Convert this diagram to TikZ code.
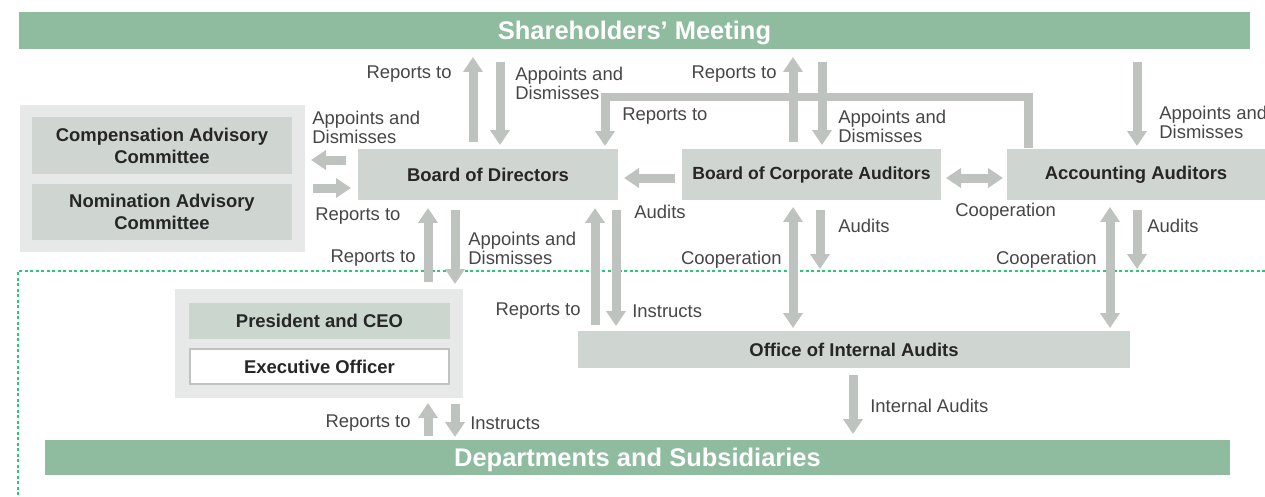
\documentclass[tikz,border=0pt]{standalone}
\usepackage{fontspec}
\setmainfont{Liberation Sans}
\usetikzlibrary{arrows.meta}
\definecolor{bar_green}{RGB}{143, 188, 159}
\definecolor{box_grey}{RGB}{207, 213, 209}
\definecolor{ceo_grey}{RGB}{202, 214, 206}
\definecolor{grp_grey}{RGB}{230, 233, 231}
\definecolor{arrow_grey}{RGB}{190, 195, 192}
\definecolor{lbl_grey}{RGB}{70, 70, 70}
\definecolor{dot_green}{RGB}{40, 200, 120}
\tikzstyle{bar}=[rectangle,fill=bar_green,text=white,inner sep=0pt,text depth=0pt,
  font=\fontsize{14.5}{16}\selectfont\bfseries]
\tikzstyle{box}=[rectangle,fill=box_grey,text=black!85,inner sep=0pt,align=center,
  font=\fontsize{10.5}{12.5}\selectfont\bfseries]
\tikzstyle{grp}=[rectangle,fill=grp_grey,inner sep=0pt]
\tikzstyle{lbl}=[text=lbl_grey,inner sep=0pt,align=left,yshift=-0.04cm,
  font=\fontsize{10.5}{10.8}\selectfont]
\tikzstyle{fat}=[draw=arrow_grey,line width=0.18cm,
  -{Triangle[width=0.38cm,length=0.3cm]}]
\tikzstyle{fatboth}=[draw=arrow_grey,line width=0.18cm,
  {Triangle[width=0.38cm,length=0.3cm]}-{Triangle[width=0.38cm,length=0.3cm]}]
\tikzstyle{dotline}=[draw=dot_green,line width=0.025cm,dash pattern=on 0.06cm off 0.05cm]
\tikzstyle{none}=[]

\begin{document}
\begin{tikzpicture}[x=0.02cm, y=-0.02cm]
            \useasboundingbox (0, 0) rectangle (1265, 497);
            % boxes
            \node [style=bar, minimum width=24.62cm, minimum height=0.74cm] (0) at (634.5, 30.5) {Shareholders’ Meeting};
            \node [style=bar, minimum width=23.7cm, minimum height=0.7cm] (1) at (637.5, 457.5) {Departments and Subsidiaries};
            \node [style=grp, minimum width=5.7cm, minimum height=2.94cm] (2) at (162.5, 178.5) {};
            \node [style=box, minimum width=5.2cm, minimum height=1.14cm] (3) at (162, 145.5) {Compensation Advisory\\Committee};
            \node [style=box, minimum width=5.2cm, minimum height=1.14cm] (4) at (162, 212) {Nomination Advisory\\Committee};
            \node [style=box, minimum width=5.2cm, minimum height=1.02cm] (5) at (488, 174.5) {Board of Directors};
            \node [style=box, font=\fontsize{10}{12}\selectfont\bfseries, minimum width=5.18cm, minimum height=1.02cm] (6) at (811.5, 174.5) {Board of Corporate Auditors};
            \node [style=box, minimum width=5.16cm, minimum height=1.02cm] (7) at (1136, 174.5) {Accounting Auditors};
            \node [style=box, minimum width=11.04cm, minimum height=0.74cm] (8) at (854, 349.5) {Office of Internal Audits};
            \node [style=grp, minimum width=5.76cm, minimum height=2.18cm] (9) at (319, 343.5) {};
            \node [style=box, fill=ceo_grey, minimum width=5.22cm, minimum height=0.72cm] (10) at (319.5, 321) {President and CEO};
            \node [style=box, fill=white, draw=arrow_grey, line width=0.04cm, minimum width=5.18cm, minimum height=0.7cm] (11) at (319.5, 366.5) {Executive Officer};
            % arrow ends
            \node [style=none] (20) at (473, 142) {};
            \node [style=none] (21) at (473, 57) {};
            \node [style=none] (22) at (500, 62) {};
            \node [style=none] (23) at (500, 145) {};
            \node [style=none] (24) at (793, 142) {};
            \node [style=none] (25) at (793, 57) {};
            \node [style=none] (26) at (822, 62) {};
            \node [style=none] (27) at (822, 145) {};
            \node [style=none] (28) at (1137, 62) {};
            \node [style=none] (29) at (1137, 146) {};
            \node [style=none] (30) at (1028, 148) {};
            \node [style=none] (31) at (1028, 97) {};
            \node [style=none] (32) at (605, 97) {};
            \node [style=none] (33) at (605, 146) {};
            \node [style=none] (34) at (346, 160) {};
            \node [style=none] (35) at (311, 160) {};
            \node [style=none] (36) at (313, 188) {};
            \node [style=none] (37) at (351, 188) {};
            \node [style=none] (38) at (675, 178) {};
            \node [style=none] (39) at (624, 178) {};
            \node [style=none] (40) at (946, 178) {};
            \node [style=none] (41) at (1003, 178) {};
            \node [style=none] (42) at (428, 282) {};
            \node [style=none] (43) at (428, 208) {};
            \node [style=none] (44) at (455, 210) {};
            \node [style=none] (45) at (455, 284) {};
            \node [style=none] (46) at (595, 325) {};
            \node [style=none] (47) at (595, 208) {};
            \node [style=none] (48) at (616, 210) {};
            \node [style=none] (49) at (616, 326) {};
            \node [style=none] (50) at (793, 207) {};
            \node [style=none] (51) at (793, 328) {};
            \node [style=none] (52) at (820, 210) {};
            \node [style=none] (53) at (820, 269) {};
            \node [style=none] (54) at (1110, 207) {};
            \node [style=none] (55) at (1110, 328) {};
            \node [style=none] (56) at (1137, 210) {};
            \node [style=none] (57) at (1137, 269) {};
            \node [style=none] (58) at (853, 375) {};
            \node [style=none] (59) at (853, 434) {};
            \node [style=none] (60) at (428, 436) {};
            \node [style=none] (61) at (428, 403) {};
            \node [style=none] (62) at (455, 404) {};
            \node [style=none] (63) at (455, 437) {};
            \node [style=none] (64) at (1265, 271) {};
            \node [style=none] (65) at (18, 271) {};
            \node [style=none] (66) at (18, 497) {};
            % labels
            \node [style=lbl, anchor=east] (70) at (452, 72) {Reports to};
            \node [style=lbl, anchor=west] (71) at (515, 81.5) {Appoints and\\Dismisses};
            \node [style=lbl, anchor=west] (72) at (622, 114) {Reports to};
            \node [style=lbl, anchor=east] (73) at (777, 72) {Reports to};
            \node [style=lbl, anchor=west] (74) at (838, 124) {Appoints and\\Dismisses};
            \node [style=lbl, anchor=west] (75) at (1159, 120.5) {Appoints and\\Dismisses};
            \node [style=lbl, anchor=west] (76) at (312, 125) {Appoints and\\Dismisses};
            \node [style=lbl, anchor=west] (77) at (315, 214) {Reports to};
            \node [style=lbl, anchor=west] (78) at (634, 210) {Audits};
            \node [style=lbl, anchor=west] (79) at (955, 210) {Cooperation};
            \node [style=lbl, anchor=east] (80) at (416, 256) {Reports to};
            \node [style=lbl, anchor=west] (81) at (468, 246) {Appoints and\\Dismisses};
            \node [style=lbl, anchor=east] (82) at (581, 309) {Reports to};
            \node [style=lbl, anchor=west] (83) at (632, 309) {Instructs};
            \node [style=lbl, anchor=east] (84) at (782, 258) {Cooperation};
            \node [style=lbl, anchor=west] (85) at (838, 224) {Audits};
            \node [style=lbl, anchor=east] (86) at (1097, 258) {Cooperation};
            \node [style=lbl, anchor=west] (87) at (1147, 224) {Audits};
            \node [style=lbl, anchor=west] (88) at (870, 404) {Internal Audits};
            \node [style=lbl, anchor=east] (89) at (411, 421) {Reports to};
            \node [style=lbl, anchor=west] (90) at (470, 421) {Instructs};
            % connectors
            \draw [style=dotline] (64.center) to (65.center) to (66.center);
            \draw [style=fat] (20.center) to (21.center);
            \draw [style=fat] (22.center) to (23.center);
            \draw [style=fat] (24.center) to (25.center);
            \draw [style=fat] (26.center) to (27.center);
            \draw [style=fat] (28.center) to (29.center);
            \draw [style=fat, line join=miter] (30.center) -- (31.center) -- (32.center) -- (33.center);
            \draw [style=fat] (34.center) to (35.center);
            \draw [style=fat] (36.center) to (37.center);
            \draw [style=fat] (38.center) to (39.center);
            \draw [style=fatboth] (40.center) to (41.center);
            \draw [style=fat] (42.center) to (43.center);
            \draw [style=fat] (44.center) to (45.center);
            \draw [style=fat] (46.center) to (47.center);
            \draw [style=fat] (48.center) to (49.center);
            \draw [style=fatboth] (50.center) to (51.center);
            \draw [style=fat] (52.center) to (53.center);
            \draw [style=fatboth] (54.center) to (55.center);
            \draw [style=fat] (56.center) to (57.center);
            \draw [style=fat] (58.center) to (59.center);
            \draw [style=fat] (60.center) to (61.center);
            \draw [style=fat] (62.center) to (63.center);
    \end{tikzpicture}
\end{document}
